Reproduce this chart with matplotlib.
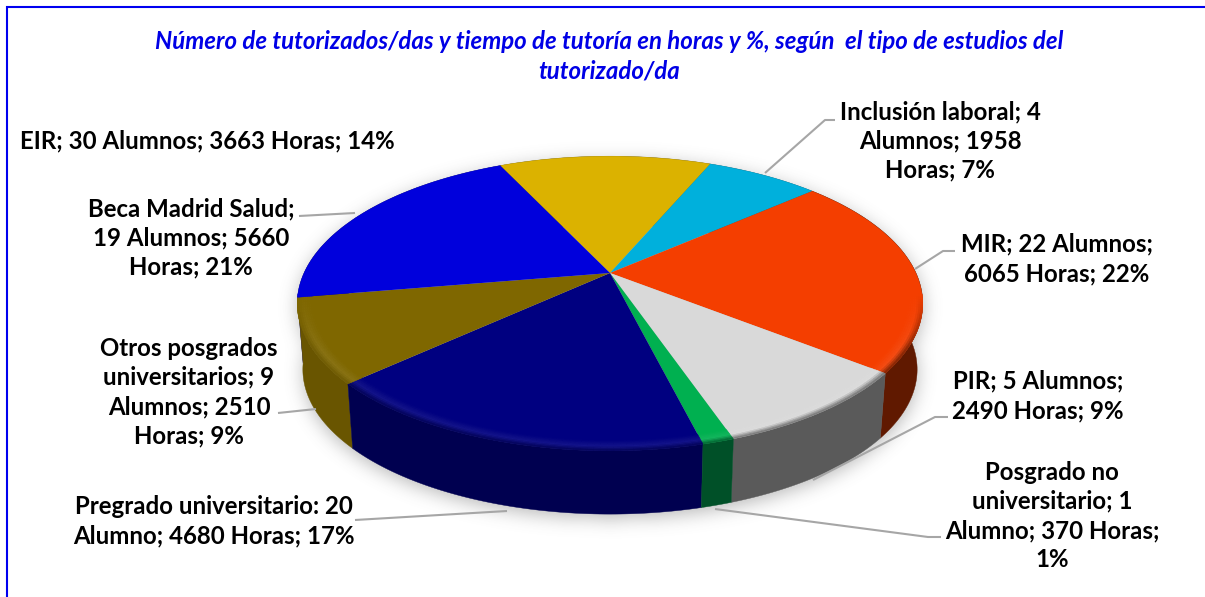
import numpy as np
import matplotlib
matplotlib.use("Agg")
import matplotlib.pyplot as plt
from matplotlib import transforms as mtrans
from matplotlib.collections import PolyCollection
from matplotlib.colors import to_rgb
from matplotlib.path import Path

title = "Número de tutorizados/das y tiempo de tutoría en horas y %, según  el tipo de estudios del\ntutorizado/da"
categories = ["EIR", "Inclusión laboral", "MIR", "PIR", "Posgrado no universitario",
              "Pregrado universitario", "Otros posgrados universitarios", "Beca Madrid Salud"]
hours = [3663, 1958, 6065, 2490, 370, 4680, 2510, 5660]
labels = ["EIR; 30 Alumnos; 3663 Horas; 14%",
          "Inclusión laboral; 4\nAlumnos; 1958\nHoras; 7%",
          "MIR; 22 Alumnos;\n6065 Horas; 22%",
          "PIR; 5 Alumnos;\n2490 Horas; 9%",
          "Posgrado no\nuniversitario; 1\nAlumno; 370 Horas;\n1%",
          "Pregrado universitario: 20\nAlumno; 4680 Horas; 17%",
          "Otros posgrados\nuniversitarios; 9\nAlumnos; 2510\nHoras; 9%",
          "Beca Madrid Salud;\n19 Alumnos; 5660\nHoras; 21%"]
top_colors = ["#DBB200", "#00B0DC", "#F43E00", "#D9D9D9", "#00B050", "#000080", "#7F6700", "#0000DC"]
wall_colors = ["#8A7000", "#006F8A", "#601900", "#5A5A5A", "#005028", "#000050", "#695500", "#00008C"]
label_pos = [(207, 141), (940, 141), (1057, 259), (1038, 396), (1052, 516), (214, 521), (189, 392), (191, 238)]
leaders = [None,
           [(835, 120), (825, 120), (765, 173)],
           [(955, 251), (943, 251), (915, 269)],
           [(948, 417), (935, 417), (813, 480)],
           [(941, 537), (928, 537), (715, 509)],
           [(355, 520), (507, 511)],
           [(278, 413), (316, 409)],
           [(299, 216), (355, 213)]]

CX, CY, RX, RY, K = 610.0, 273.0, 306.0, 141.0, 0.207
SCALE, DROP = 0.982, 66.5


def project(x, y):
    d = 1 + K * y
    return CX + RX * x / d, CY - RY * y / d


def project_low(x, y):
    px, py = project(x, y)
    return CX + SCALE * (px - CX), CY + SCALE * (py - CY) + DROP


class Perspective(mtrans.Transform):
    input_dims = 2
    output_dims = 2
    is_separable = False
    has_inverse = False

    def transform_non_affine(self, values):
        v = np.asarray(values, dtype=float)
        px, py = project(v[:, 0], v[:, 1])
        return np.column_stack([px, py])


plt.rcParams['font.family'] = ['Lato', 'DejaVu Sans']
fig = plt.figure(figsize=(12.05, 5.97), dpi=100)
ax = fig.add_axes([0, 0, 1, 1])

wedges, _ = ax.pie(hours, colors=top_colors, startangle=115.2, counterclock=False, radius=1.0,
                   wedgeprops=dict(linewidth=0))
ax.set_aspect('auto')
ax.set_xlim(0, 1205)
ax.set_ylim(597, 0)
ax.axis('off')

persp = Perspective()
for w in wedges:
    w.set_transform(persp + ax.transData)
    w.set_zorder(4)

# soft shadow below the disc
tt = np.radians(np.arange(0, 360.5, 1.0))
lx, ly = project_low(np.cos(tt), np.sin(tt))
hx, hy = project(np.cos(tt), np.sin(tt))
grid_x, grid_y = np.meshgrid(np.arange(0, 1205, 2.0), np.arange(0, 597, 2.0))
pts = np.column_stack([grid_x.ravel(), grid_y.ravel()])
mask = np.zeros(grid_x.shape)
for ex, ey in [(lx, ly + 4), (hx, hy + 4)]:
    mask = np.maximum(mask, Path(np.column_stack([ex, ey])).contains_points(pts).reshape(grid_x.shape).astype(float))
kern = np.exp(-0.5 * (np.arange(-12, 13) / 4.5) ** 2)
kern /= kern.sum()
blur = np.apply_along_axis(lambda r: np.convolve(r, kern, mode='same'), 0, mask)
blur = np.apply_along_axis(lambda r: np.convolve(r, kern, mode='same'), 1, blur)
rgba = np.zeros(blur.shape + (4,))
rgba[..., :3] = 0.35
rgba[..., 3] = blur * 0.42
ax.imshow(rgba, extent=(0, 1205, 597, 0), aspect='auto', zorder=1, interpolation='bilinear')
ax.set_xlim(0, 1205)
ax.set_ylim(597, 0)

# side walls, back to front
order = sorted(range(len(wedges)), key=lambda i: -np.sin(np.radians((wedges[i].theta1 + wedges[i].theta2) / 2)))
for i in order:
    w = wedges[i]
    th = np.radians(np.linspace(w.theta1, w.theta2, 80))
    ux, uy = project(np.cos(th), np.sin(th))
    bx, by = project_low(np.cos(th), np.sin(th))
    poly = np.column_stack([np.r_[ux, bx[::-1]], np.r_[uy, by[::-1]]])
    ax.fill(poly[:, 0], poly[:, 1], color=wall_colors[i], lw=0.3, zorder=2)

# bevel along the front rim
levels = np.linspace(0.952, 1.0, 9)
for i, w in enumerate(wedges):
    face = np.array(to_rgb(top_colors[i]))
    wall = np.array(to_rgb(wall_colors[i]))
    light = face + 0.08 * (1 - face)
    th = np.arange(w.theta1, w.theta2 + 1.0, 1.0)
    th = np.radians(np.clip(th, w.theta1, w.theta2))
    quads, cols = [], []
    for r0, r1 in zip(levels[:-1], levels[1:]):
        u = (0.5 * (r0 + r1) - levels[0]) / (levels[-1] - levels[0])
        if u < 0.6:
            c = face + (light - face) * u / 0.6
        else:
            c = light + (wall - light) * (u - 0.6) / 0.4 * 0.85
        for a0, a1 in zip(th[:-1], th[1:]):
            f = np.clip((-0.15 - np.sin(0.5 * (a0 + a1))) / 0.35, 0, 1)
            if f <= 0:
                continue
            xs = np.array([r0 * np.cos(a0), r1 * np.cos(a0), r1 * np.cos(a1), r0 * np.cos(a1)])
            ys = np.array([r0 * np.sin(a0), r1 * np.sin(a0), r1 * np.sin(a1), r0 * np.sin(a1)])
            px, py = project(xs, ys)
            quads.append(np.column_stack([px, py]))
            cols.append(tuple(face * (1 - f) + c * f))
    if quads:
        ax.add_collection(PolyCollection(quads, facecolors=cols, edgecolors=cols, linewidths=0.3, zorder=5))

# leader lines and labels
for pts_line in leaders:
    if pts_line:
        xs, ys = zip(*pts_line)
        ax.plot(xs, ys, color='#A6A6A6', lw=1.5, zorder=3, solid_capstyle='butt')
for lab, (x, y) in zip(labels, label_pos):
    ax.text(x, y, lab, ha='center', va='center', fontsize=17.3, fontweight='bold',
            color='#000000', linespacing=1.33, zorder=6)

ax.text(609, 56, title, ha='center', va='center', fontsize=17.3, fontweight='bold', fontstyle='italic',
        color='#0000E6', linespacing=1.33, zorder=6)

# outer frame (right and bottom edges fall outside the crop)
ax.plot([6.5, 6.5, 1205], [597, 6.5, 6.5], color='#0000F0', lw=1.5, zorder=7, solid_joinstyle='miter')

fig.savefig("out.png", dpi=100, facecolor='white')
